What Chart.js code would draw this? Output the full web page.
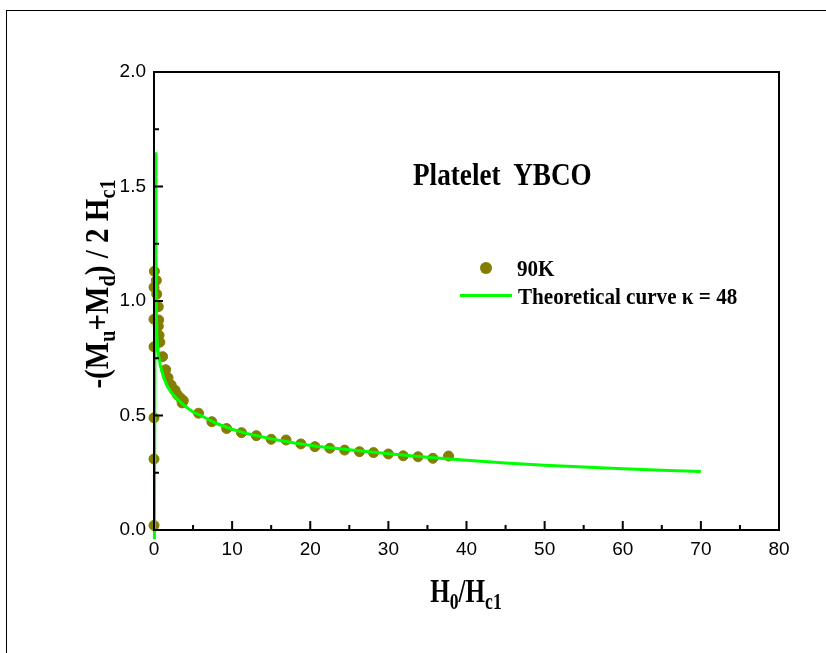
<!DOCTYPE html>
<html>
<head>
<meta charset="utf-8">
<script src="https://cdn.jsdelivr.net/npm/chart.js@4.4.1/dist/chart.umd.min.js"></script>
<style>
  body { margin: 0; background: #fff; }
  #wrap { position: relative; width: 826px; height: 653px; overflow: hidden; }
  #frame { position: absolute; left: 6px; top: 10px; width: 900px; height: 700px;
           border-top: 1.5px solid #000; border-left: 1.5px solid #000; }
  .serif { position: absolute; font-family: "Liberation Serif", "Times New Roman", serif;
           font-weight: bold; color: #000; white-space: nowrap; line-height: 1; }
  .serif sub { font-size: 70%; vertical-align: -0.3em; }
  #ytitle { left: 100px; top: 284px; font-size: 33px; transform: translate(-50%, -50%) rotate(-90deg) scaleX(0.88); }
  #xtitle { left: 466px; top: 594px; font-size: 33px; transform: translate(-50%, -50%) scaleX(0.76); }
  #note { left: 413px; top: 158px; font-size: 32px; transform-origin: left center; transform: scaleX(0.85); }
  .leg { font-size: 24px; transform-origin: left center; transform: scaleX(0.88); }
  #leg1 { left: 517px; top: 256px; }
  #leg2 { left: 518px; top: 284px; }
  #dot { position: absolute; left: 480px; top: 262px; width: 12px; height: 12px; border-radius: 50%; background: #847e00; }
  #ln { position: absolute; left: 460px; top: 294px; width: 52px; height: 3px; background: #00ff00; }
</style>
</head>
<body>
<div id="wrap">
  <div id="frame"></div>
  <canvas id="chart" width="826" height="653"></canvas>
  <div class="serif" id="ytitle">-(M<sub>u</sub>+M<sub>d</sub>) / 2 H<sub>c1</sub></div>
  <div class="serif" id="xtitle">H<sub>0</sub>/H<sub>c1</sub></div>
  <div class="serif" id="note">Platelet&nbsp; YBCO</div>
  <div id="dot"></div>
  <div class="serif leg" id="leg1">90K</div>
  <div id="ln"></div>
  <div class="serif leg" id="leg2">Theoretical curve &kappa; = 48</div>
</div>
<script>
// measured points, 90K
const measX = [0, 0, 0, 0, 0, 0, 0.05, 0.3, 0.35, 0.55, 0.6, 0.55, 0.65, 0.75, 1.1, 1.5, 1.8, 2.2, 2.7, 3.0, 3.4, 3.75, 3.6,
  5.7, 7.4, 9.3, 11.2, 13.1, 15.0, 16.9, 18.8, 20.6, 22.5, 24.4, 26.3, 28.1, 30.0, 31.9, 33.8, 35.7, 37.7]
const measY = [0.02, 0.31, 0.49, 0.80, 0.92, 1.06, 1.13, 1.09, 1.03, 0.975, 0.917, 0.89, 0.85, 0.82, 0.757, 0.70, 0.665, 0.633, 0.61, 0.59, 0.576, 0.565, 0.555,
  0.51, 0.473, 0.443, 0.425, 0.412, 0.396, 0.393, 0.376, 0.364, 0.357, 0.349, 0.342, 0.338, 0.332, 0.324, 0.32, 0.313, 0.323]

// theoretical curve, kappa = 48
const theoX = [0.05, 0.2, 0.25, 0.3, 0.4, 0.6, 0.8, 1.2, 1.6, 2.2, 3, 4, 5, 6, 8, 10, 12, 15, 18, 21, 25, 30, 35, 40, 45, 50, 55, 60, 65, 70]
const theoY = [-0.04, 1.65, 1.2, 0.95, 0.82, 0.76, 0.72, 0.67, 0.635, 0.6, 0.57, 0.54, 0.515, 0.5, 0.465, 0.44, 0.42, 0.398, 0.38, 0.365, 0.35, 0.333, 0.318, 0.305, 0.293, 0.283, 0.275, 0.267, 0.261, 0.255]

const xTicks = [0, 10, 20, 30, 40, 50, 60, 70, 80]
const yTicks = [0.0, 0.5, 1.0, 1.5, 2.0]

const tickFont = { family: '"Liberation Sans", Arial, sans-serif', size: 19 }

// box round the plot, ticks pointing inward
const frameBox = {
  id: 'frameBox',
  afterDatasetsDraw(chart) {
    const { ctx, chartArea: a, scales } = chart
    ctx.save()
    ctx.strokeStyle = '#000'
    ctx.lineWidth = 2
    ctx.strokeRect(a.left, a.top, a.right - a.left, a.bottom - a.top)
    ctx.beginPath()
    for (let v = 0; v <= 80; v += 5) {
      const px = scales.x.getPixelForValue(v)
      const len = v % 10 === 0 ? 9 : 5
      ctx.moveTo(px, a.bottom)
      ctx.lineTo(px, a.bottom - len)
    }
    for (let i = 0; i <= 8; i++) {
      const py = scales.y.getPixelForValue(i * 0.25)
      const len = i % 2 === 0 ? 9 : 5
      ctx.moveTo(a.left, py)
      ctx.lineTo(a.left + len, py)
    }
    ctx.stroke()
    ctx.restore()
  }
}

new Chart(document.getElementById('chart'), {
  data: {
    datasets: [{
      type: 'line',
      label: 'Theoretical curve',
      data: theoX.map((x, i) => ({ x: x, y: theoY[i] })),
      borderColor: '#00ff00',
      borderWidth: 3,
      pointRadius: 0,
      tension: 0,
      clip: false,
      order: 0
    }, {
      type: 'scatter',
      label: '90K',
      data: measX.map((x, i) => ({ x: x, y: measY[i] })),
      backgroundColor: '#847e00',
      borderColor: '#847e00',
      pointRadius: 5,
      clip: false,
      order: 1
    }]
  },
  options: {
    responsive: false,
    animation: false,
    layout: { padding: { top: 72, right: 47, left: 0, bottom: 0 } },
    plugins: { legend: { display: false }, tooltip: { enabled: false } },
    scales: {
      x: {
        type: 'linear', min: 0, max: 80,
        grid: { display: false, drawTicks: false },
        border: { display: false },
        afterBuildTicks: s => { s.ticks = xTicks.map(v => ({ value: v })) },
        afterFit: s => { s.height = 123 },
        ticks: { color: '#000', font: tickFont, padding: 8, maxRotation: 0 }
      },
      y: {
        type: 'linear', min: 0, max: 2,
        grid: { display: false, drawTicks: false },
        border: { display: false },
        afterBuildTicks: s => { s.ticks = yTicks.map(v => ({ value: v })) },
        afterFit: s => { s.width = 154 },
        ticks: { color: '#000', font: tickFont, padding: 8, callback: v => v.toFixed(1) }
      }
    }
  },
  plugins: [frameBox]
})
</script>
</body>
</html>
